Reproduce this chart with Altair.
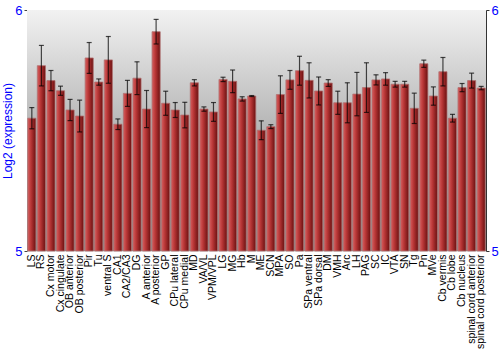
import altair as alt
import pandas as pd

regions = ["LS", "RS", "Cx motor", "Cx cingulate", "OB anterior", "OB posterior", "Pir", "Tu",
           "ventral S", "CA1", "CA2/CA3", "DG", "A anterior", "A posterior", "GP", "CPu lateral",
           "CPu medial", "MD", "VA/VL", "VPM/VPL", "LG", "MG", "Hb", "M", "ME", "SCN", "MPA", "SO",
           "Pa", "SPa ventral", "SPa dorsal", "DM", "VMH", "Arc", "LH", "PAG", "SC", "IC", "VTA",
           "SN", "Tg", "Pn", "MVe", "Cb vermis", "Cb lobe", "Cb nucleus", "spinal cord anterior",
           "spinal cord posterior"]
values = [5.551, 5.769, 5.707, 5.665, 5.585, 5.560, 5.801, 5.701,
          5.793, 5.526, 5.654, 5.717, 5.589, 5.910, 5.613, 5.585,
          5.564, 5.698, 5.589, 5.577, 5.712, 5.704, 5.631, 5.643, 5.501, 5.516, 5.649, 5.710,
          5.748, 5.708, 5.664, 5.697, 5.615, 5.615, 5.651, 5.678, 5.710, 5.714, 5.692,
          5.692, 5.592, 5.777, 5.643, 5.744, 5.551, 5.678, 5.707,
          5.676]
errors = [0.044, 0.084, 0.042, 0.019, 0.044, 0.066, 0.064, 0.013,
          0.097, 0.022, 0.054, 0.068, 0.077, 0.051, 0.050, 0.031,
          0.053, 0.013, 0.009, 0.039, 0.009, 0.047, 0.009, 0.002, 0.039, 0.008, 0.078, 0.039,
          0.060, 0.073, 0.058, 0.014, 0.048, 0.083, 0.090, 0.103, 0.021, 0.026, 0.012,
          0.012, 0.063, 0.015, 0.038, 0.059, 0.016, 0.017, 0.031,
          0.007]
y_ticks = [5, 6]

df = pd.DataFrame({"region": regions, "value": values, "err": errors})
df["lo"] = df["value"] - df["err"]
df["hi"] = df["value"] + df["err"]

FONT = "Liberation Sans"

xenc = alt.X("region:N", sort=regions,
             scale=alt.Scale(paddingInner=0.15, paddingOuter=0.08),
             axis=alt.Axis(title=None, labelAngle=-90, labelAlign="right", labelBaseline="middle",
                           labelFontSize=10.5, labelColor="black", labelFont=FONT, ticks=False,
                           domain=False, labelPadding=3, labelOverlap=False, labelLimit=200))
yscale = alt.Scale(domain=[5, 6], nice=False, zero=False, clamp=True)

bg = alt.Chart(alt.Data(values=[{}])).mark_rect(
    color=alt.Gradient(gradient="linear", x1=0, x2=0, y1=0, y2=1,
                       stops=[alt.GradientStop(offset=0, color="#f2f2f2"),
                              alt.GradientStop(offset=0.5, color="#b4b4b4"),
                              alt.GradientStop(offset=1, color="#8c8c8c")])
).encode(x=alt.value(0), x2=alt.value("width"), y=alt.value(0), y2=alt.value("height"))

bars = alt.Chart(df).mark_bar(
    color=alt.Gradient(gradient="linear", x1=0, x2=1, y1=0, y2=0,
                       stops=[alt.GradientStop(offset=0, color="#d65e5e"),
                              alt.GradientStop(offset=0.4, color="#b83636"),
                              alt.GradientStop(offset=1, color="#6a1010")]),
    stroke="#b07070", strokeWidth=0.8
).encode(
    x=xenc,
    y=alt.Y("value:Q", scale=yscale,
            axis=alt.Axis(title="Log2 (expression)", titleColor="blue", titleFont=FONT,
                          titleFontSize=12, titleFontWeight="normal", titlePadding=0,
                          values=y_ticks, format="d", labelColor="blue", labelFont=FONT,
                          labelFontSize=13, domainColor="#888888", tickColor="#444444",
                          tickSize=3, labelPadding=2, grid=False, orient="left")),
    y2=alt.datum(5),
)

rules = alt.Chart(df).mark_rule(color="black", opacity=0.7, strokeWidth=1.2).encode(
    x=alt.X("region:N", sort=regions),
    y=alt.Y("lo:Q", scale=yscale, axis=None), y2="hi:Q")
cap_hi = alt.Chart(df).mark_tick(color="black", opacity=0.7, size=5, thickness=1.2).encode(
    x=alt.X("region:N", sort=regions), y=alt.Y("hi:Q", scale=yscale, axis=None))
cap_lo = alt.Chart(df).mark_tick(color="black", opacity=0.7, size=5, thickness=1.2).encode(
    x=alt.X("region:N", sort=regions), y=alt.Y("lo:Q", scale=yscale, axis=None))

right_axis = alt.Chart(alt.Data(values=[{"v": 5}])).mark_point(opacity=0).encode(
    y=alt.Y("v:Q", scale=yscale,
            axis=alt.Axis(title=None, orient="right", values=y_ticks, format="d",
                          labelColor="blue", labelFont=FONT, labelFontSize=13,
                          domainColor="#333333", tickColor="#333333", tickSize=3,
                          labelPadding=2, grid=False))
)

chart = alt.layer(bg, bars, rules, cap_hi, cap_lo, right_axis).resolve_scale(
    y="independent"
).properties(
    width=459, height=241,
    autosize=alt.AutoSizeParams(type="none"),
    padding={"left": 27, "top": 10, "right": 14, "bottom": 99},
).configure_view(stroke="#888888", strokeWidth=1).configure(background="white")

chart.save("out.html", embed_options={"renderer": "svg", "actions": False})
